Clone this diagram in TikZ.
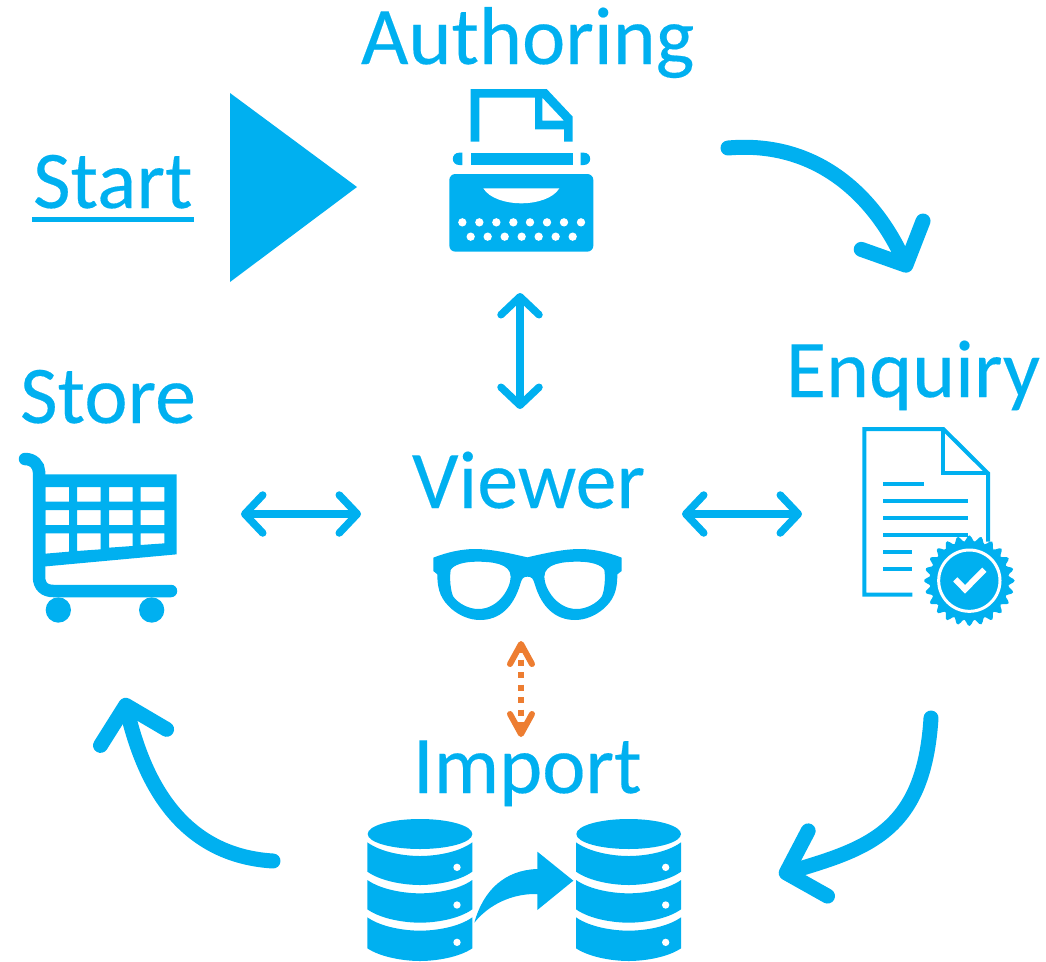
\documentclass[tikz,border=0pt]{standalone}
\usepackage{fontspec}
\setmainfont[FakeBold=0.2]{Carlito}
\usetikzlibrary{arrows.meta}
\definecolor{iconblue}{HTML}{00B0F0}
\definecolor{dotorange}{HTML}{ED7D31}
\tikzset{
  lbl/.style={anchor=base west,inner sep=0pt,outer sep=0pt,text=iconblue,font=\fontsize{82}{90}\selectfont},
  bigarrow/.style={draw=iconblue,line width=15pt,line cap=round,line join=round,
    -{Straight Barb[length=33pt,width=68pt,line cap=round,line join=round]}},
  thinarrow/.style={draw=iconblue,line width=7.5pt,line cap=round,line join=round,
    {Straight Barb[length=18pt,width=38pt,line cap=round,line join=round]}-{Straight Barb[length=18pt,width=38pt,line cap=round,line join=round]}},
  orangearrow/.style={draw=dotorange,line width=6pt,dash pattern=on 6pt off 6.5pt,
    {Straight Barb[length=20pt,width=22pt,line cap=round,line join=round]}-{Straight Barb[length=20pt,width=22pt,line cap=round,line join=round]}},
  zoomed/.style={x=0.33333pt,y=-0.33333pt},
}
\newcommand{\dbicon}{%
  \fill[iconblue] (195,72) ellipse [x radius=157,y radius=45];
  \fill[iconblue] (37,97) .. controls (80,128) and (150,138) .. (195,138) .. controls (240,138) and (310,128) .. (352,97)
    -- (352,185) .. controls (310,215) and (240,225) .. (195,225) .. controls (150,225) and (80,215) .. (37,185) -- cycle;
  \fill[iconblue] (37,210) .. controls (80,240) and (150,250) .. (195,250) .. controls (240,250) and (310,240) .. (352,210)
    -- (352,298) .. controls (310,328) and (240,338) .. (195,338) .. controls (150,338) and (80,328) .. (37,298) -- cycle;
  \fill[iconblue] (37,322) .. controls (80,352) and (150,362) .. (195,362) .. controls (240,362) and (310,352) .. (352,322)
    -- (352,415) .. controls (310,443) and (240,453) .. (195,453) .. controls (150,453) and (80,443) .. (37,415) -- cycle;
  \fill[white] (306,172) circle [radius=11] (306,285) circle [radius=11] (306,397) circle [radius=11];
}
\begin{document}
\begin{tikzpicture}[x=1pt,y=-1pt]
\useasboundingbox (0,0) rectangle (1046,961);

% labels
\node[lbl] (authoring) at (361,64) {Authoring};
\node[lbl] (enquiry) at (786,397) {Enquiry};
\node[lbl] (store) at (20,423) {Store};
\node[lbl] (viewer) at (412,508) {Viewer};
\node[lbl] (import) at (413,793) {Import};
\node[lbl] (start) at (33,208) {Start};
\fill[iconblue] (32,217) rectangle (194,222);

% start triangle
\fill[iconblue] (230,93) -- (357,187) -- (230,282) -- cycle;

% typewriter
\begin{scope}[shift={(430,80)},zoomed]
  \fill[iconblue,even odd rule] (122,27) -- (350,27) -- (428,110) -- (428,185) -- (402,185) -- (402,148) -- (315,148) -- (315,53) -- (148,53) -- (148,185) -- (122,185) -- cycle
    (337,53) -- (402,122) -- (337,122) -- cycle;
  \fill[iconblue] (122,218) rectangle (428,255);
  \fill[iconblue] (97,218) -- (97,255) -- (88,255) .. controls (62,255) and (62,218) .. (88,218) -- cycle;
  \fill[iconblue] (452,218) -- (452,255) -- (461,255) .. controls (487,255) and (487,218) .. (461,218) -- cycle;
  \fill[iconblue,rounded corners=6pt] (58,282) rectangle (490,515);
  \fill[white] (160,325) -- (388,325) .. controls (370,355) and (320,370) .. (274,370) .. controls (228,370) and (178,355) .. (160,325) -- cycle;
  \foreach \px in {97,148,199,250,300,351,402,453} \fill[white] (\px,427) circle [radius=12.5];
  \foreach \px in {122,173,224,275,326,377,428} \fill[white] (\px,470) circle [radius=12.5];
\end{scope}

% document with seal
\begin{scope}[shift={(850,420)},zoomed]
  \draw[iconblue,line width=4pt,line join=miter] (187,524) -- (43,524) -- (43,27) -- (280,27) -- (414,160) -- (414,365);
  \draw[iconblue,line width=4pt] (280,27) -- (280,160) -- (414,160);
  \draw[iconblue,line width=4pt] (100,192) -- (222,192);
  \foreach \ly in {243,295,346} \draw[iconblue,line width=4pt] (100,\ly) -- (355,\ly);
  \foreach \ly in {396,447} \draw[iconblue,line width=4pt] (100,\ly) -- (187,\ly);
  \fill[iconblue] plot[smooth cycle,samples=145,domain=0:357.5] ({358+127*cos(\x)+9*cos(\x)*cos(24*\x)},{482+127*sin(\x)+9*sin(\x)*cos(24*\x)});
  \draw[white,line width=3pt] (358,482) circle [radius=92];
  \draw[white,line width=6pt,line cap=butt,line join=miter] (316,478) -- (345,508) -- (403,449);
\end{scope}

% cart
\begin{scope}[shift={(10,445)},zoomed]
  \draw[iconblue,line width=12.5pt,line cap=round] (45,42) .. controls (70,42) and (87,60) .. (87,80) -- (87,395) .. controls (87,425) and (105,438) .. (130,438) -- (483,438);
  \fill[iconblue,even odd rule] (87,88) -- (500,88) -- (500,328) -- (87,366) -- cycle
    (106,126) rectangle (177,170) (201,126) rectangle (272,170) (297,126) rectangle (368,170) (392,126) rectangle (463,170)
    (106,195) rectangle (177,240) (201,195) rectangle (272,240) (297,195) rectangle (368,240) (392,195) rectangle (463,240)
    (106,265) -- (177,265) -- (177,320) -- (106,326) -- cycle
    (201,265) -- (272,265) -- (272,313) -- (201,318) -- cycle
    (297,265) -- (368,265) -- (368,303) -- (297,308) -- cycle
    (392,265) -- (463,265) -- (463,295) -- (392,300) -- cycle;
  \fill[iconblue] (145,495) circle [radius=38] (425,495) circle [radius=38];
\end{scope}

% glasses
\begin{scope}[shift={(420,535)},zoomed]
  \fill[iconblue,even odd rule]
    (40,68) .. controls (80,52) and (125,42) .. (165,42) .. controls (215,42) and (270,55) .. (322,67)
    .. controls (374,55) and (430,42) .. (480,42) .. controls (520,42) and (565,52) .. (605,68)
    -- (605,108) -- (592,118) .. controls (592,170) and (580,195) .. (550,222) .. controls (525,243) and (495,255) .. (465,255)
    .. controls (405,255) and (365,215) .. (345,150) .. controls (340,130) and (335,125) .. (322,125)
    .. controls (310,125) and (305,130) .. (300,150) .. controls (280,215) and (240,255) .. (180,255)
    .. controls (150,255) and (120,243) .. (95,222) .. controls (65,195) and (52,170) .. (52,118) -- (40,108) -- cycle
    (92,105) .. controls (100,90) and (130,80) .. (170,80) .. controls (215,80) and (272,85) .. (272,125)
    .. controls (272,160) and (235,222) .. (175,222) .. controls (145,222) and (115,205) .. (100,185) .. controls (92,170) and (88,130) .. (92,105) -- cycle
    (553,105) .. controls (545,90) and (515,80) .. (475,80) .. controls (430,80) and (373,85) .. (373,125)
    .. controls (373,160) and (410,222) .. (470,222) .. controls (500,222) and (530,205) .. (545,185) .. controls (553,170) and (557,130) .. (553,105) -- cycle;
\end{scope}

% databases and transfer arrow
\begin{scope}[shift={(355,810)},zoomed]
  \dbicon
  \begin{scope}[xshift=208.67pt]
    \dbicon
  \end{scope}
  \fill[iconblue] (358,338) .. controls (385,240) and (450,180) .. (547,177) -- (547,125) -- (655,212) -- (547,300) -- (547,252) .. controls (470,250) and (400,285) .. (358,338) -- cycle;
\end{scope}

% connector end points
\coordinate (authout) at (728,148);
\coordinate (enqin) at (909,272);
\coordinate (enqout) at (931,718);
\coordinate (impin) at (779,875);
\coordinate (impout) at (273,861);
\coordinate (storein) at (124,698);
\coordinate (authbot) at (520,293);
\coordinate (viewtop) at (520,409);
\coordinate (storeright) at (241,514);
\coordinate (viewleft) at (361,514);
\coordinate (viewright) at (682,514);
\coordinate (enqleft) at (802,514);
\coordinate (viewbot) at (521,641);
\coordinate (imptop) at (521,737);

\draw[bigarrow] (authout) .. controls (820,140) and (876,200) .. (enqin);
\draw[bigarrow] (enqout) .. controls (924,830) and (870,848) .. (impin);
\draw[bigarrow] (impout) .. controls (175,855) and (142,772) .. (storein);
\draw[thinarrow] (authbot) -- (viewtop);
\draw[thinarrow] (storeright) -- (viewleft);
\draw[thinarrow] (viewright) -- (enqleft);
\draw[orangearrow] (viewbot) -- (imptop);
\end{tikzpicture}
\end{document}
